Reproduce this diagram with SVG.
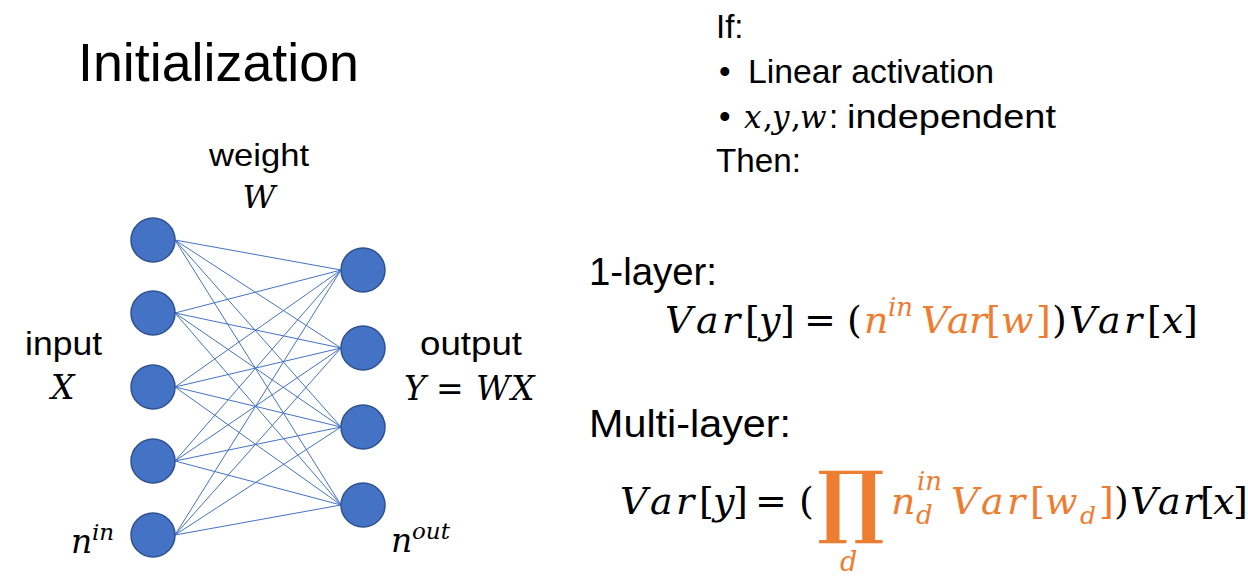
<svg xmlns="http://www.w3.org/2000/svg" width="1248" height="586" viewBox="0 0 1248 586">
<style>
.s{font-family:"Liberation Sans",Arial,sans-serif;fill:#000}
.m{font-family:"DejaVu Serif",serif;font-style:italic;fill:#000}
.u{font-style:normal}
.or{fill:#ED7D31}
.k{fill:#000}
.node{fill:#4472C4;stroke:#2F528F;stroke-width:1.5}
.edge{stroke:#4472C4;stroke-width:1;fill:none}
</style>
<rect width="1248" height="586" fill="#fff"/>

<g id="title"><text class="s" x="78" y="81" font-size="53" textLength="281" lengthAdjust="spacingAndGlyphs">Initialization</text></g>

<g id="labels">
<text class="s" x="209" y="166" font-size="32" textLength="100" lengthAdjust="spacingAndGlyphs">weight</text>
<text class="m" x="259" y="208" font-size="32" text-anchor="middle">W</text>
<text class="s" x="25" y="355" font-size="33" textLength="77" lengthAdjust="spacingAndGlyphs">input</text>
<text class="m" x="51" y="399" font-size="33">X</text>
<text class="s" x="420" y="355" font-size="33" textLength="102" lengthAdjust="spacingAndGlyphs">output</text>
<text class="m" y="400" font-size="33"><tspan x="404">Y</tspan><tspan class="u" x="436">=</tspan><tspan x="476">W</tspan><tspan x="511">X</tspan></text>
<text class="m" y="553" font-size="33"><tspan x="71">n</tspan><tspan x="92" y="540" font-size="23">in</tspan></text>
<text class="m" y="552" font-size="33"><tspan x="391">n</tspan><tspan x="412" y="539" font-size="23">out</tspan></text>
</g>

<g id="connectors">
<line class="edge" x1="175" y1="240" x2="341" y2="270"/>
<line class="edge" x1="175" y1="240" x2="341" y2="348"/>
<line class="edge" x1="175" y1="240" x2="341" y2="427"/>
<line class="edge" x1="175" y1="240" x2="341" y2="505"/>
<line class="edge" x1="175" y1="313" x2="341" y2="270"/>
<line class="edge" x1="175" y1="313" x2="341" y2="348"/>
<line class="edge" x1="175" y1="313" x2="341" y2="427"/>
<line class="edge" x1="175" y1="313" x2="341" y2="505"/>
<line class="edge" x1="175" y1="387" x2="341" y2="270"/>
<line class="edge" x1="175" y1="387" x2="341" y2="348"/>
<line class="edge" x1="175" y1="387" x2="341" y2="427"/>
<line class="edge" x1="175" y1="387" x2="341" y2="505"/>
<line class="edge" x1="175" y1="461" x2="341" y2="270"/>
<line class="edge" x1="175" y1="461" x2="341" y2="348"/>
<line class="edge" x1="175" y1="461" x2="341" y2="427"/>
<line class="edge" x1="175" y1="461" x2="341" y2="505"/>
<line class="edge" x1="175" y1="535" x2="341" y2="270"/>
<line class="edge" x1="175" y1="535" x2="341" y2="348"/>
<line class="edge" x1="175" y1="535" x2="341" y2="427"/>
<line class="edge" x1="175" y1="535" x2="341" y2="505"/>
</g>

<g id="in1"><circle class="node" cx="153" cy="240" r="22"/></g>
<g id="in2"><circle class="node" cx="153" cy="313" r="22"/></g>
<g id="in3"><circle class="node" cx="153" cy="387" r="22"/></g>
<g id="in4"><circle class="node" cx="153" cy="461" r="22"/></g>
<g id="in5"><circle class="node" cx="153" cy="535" r="22"/></g>
<g id="out1"><circle class="node" cx="363" cy="270" r="22"/></g>
<g id="out2"><circle class="node" cx="363" cy="348" r="22"/></g>
<g id="out3"><circle class="node" cx="363" cy="427" r="22"/></g>
<g id="out4"><circle class="node" cx="363" cy="505" r="22"/></g>

<g id="conditions">
<text class="s" x="716" y="38" font-size="33">If:</text>
<text class="s" x="719" y="83" font-size="33">•</text>
<text class="s" x="748" y="83" font-size="33" textLength="246" lengthAdjust="spacingAndGlyphs">Linear activation</text>
<text class="s" x="719" y="128" font-size="33">•</text>
<text class="m" y="128" font-size="31"><tspan x="744">x</tspan><tspan class="u" x="763">,</tspan><tspan x="772">y</tspan><tspan class="u" x="791">,</tspan><tspan x="800">w</tspan></text>
<text class="s" x="829" y="128" font-size="33">:</text>
<text class="s" x="847" y="128" font-size="33" textLength="209" lengthAdjust="spacingAndGlyphs">independent</text>
<text class="s" x="716" y="172" font-size="33" textLength="85" lengthAdjust="spacingAndGlyphs">Then:</text>
</g>

<g id="one-layer">
<text class="s" x="589" y="285" font-size="38" textLength="128" lengthAdjust="spacingAndGlyphs">1-layer:</text>
<text class="m" y="333" font-size="38"><tspan x="665">V</tspan><tspan x="696">a</tspan><tspan x="722">r</tspan><tspan class="u" x="745">[</tspan><tspan x="759">y</tspan><tspan class="u" x="780">]</tspan><tspan class="u" x="804">=</tspan><tspan class="u" x="847">(</tspan><tspan class="or" x="864">n</tspan><tspan class="or" x="888" y="316" font-size="26">in</tspan><tspan class="or" x="921" y="333">V</tspan><tspan class="or" x="947">a</tspan><tspan class="or" x="969">r</tspan><tspan class="or u" x="986">[</tspan><tspan class="or" x="1001">w</tspan><tspan class="or u" x="1036">]</tspan><tspan class="u" x="1052">)</tspan><tspan x="1069">V</tspan><tspan x="1098">a</tspan><tspan x="1124">r</tspan><tspan class="u" x="1147">[</tspan><tspan x="1162">x</tspan><tspan class="u" x="1183">]</tspan></text>
</g>

<g id="multi-layer">
<text class="s" x="589" y="437" font-size="38" textLength="202" lengthAdjust="spacingAndGlyphs">Multi-layer:</text>
<text class="m" y="514" font-size="38"><tspan x="620">V</tspan><tspan x="650">a</tspan><tspan x="676">r</tspan><tspan class="u" x="699">[</tspan><tspan x="713">y</tspan><tspan class="u" x="733">]</tspan><tspan class="u" x="755">=</tspan><tspan class="u" x="799">(</tspan></text>
<text class="or" x="851" y="528" font-family="DejaVu Serif" font-weight="bold" font-size="80" text-anchor="middle">∏</text>
<text class="m or" x="840" y="571" font-size="27">d</text>
<text class="m" y="514" font-size="38"><tspan class="or" x="891">n</tspan><tspan class="or" x="917" y="490" font-size="26">in</tspan><tspan class="or" x="916" y="524" font-size="26">d</tspan><tspan class="or" x="951" y="514">V</tspan><tspan class="or" x="981">a</tspan><tspan class="or" x="1007">r</tspan><tspan class="or u" x="1030">[</tspan><tspan class="or" x="1045">w</tspan><tspan class="or" x="1080" y="524" font-size="25">d</tspan><tspan class="or u" x="1099" y="514">]</tspan><tspan class="u" x="1114">)</tspan><tspan x="1130">V</tspan><tspan x="1158">a</tspan><tspan x="1183">r</tspan><tspan class="u" x="1200">[</tspan><tspan x="1213">x</tspan><tspan class="u" x="1233">]</tspan></text>
</g>
</svg>
